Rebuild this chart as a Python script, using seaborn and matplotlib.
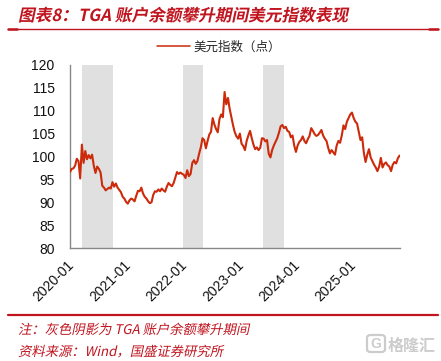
import matplotlib
matplotlib.use('Agg')
import matplotlib.pyplot as plt
import seaborn as sns
import pandas as pd
from matplotlib.lines import Line2D
from matplotlib.patches import FancyBboxPatch
from matplotlib.patheffects import AbstractPathEffect
from matplotlib.transforms import Affine2D, ScaledTranslation

# US dollar index, one value every 11 days from 2020-01-01
dxy = [
    96.6, 97.3, 97.4, 98.0, 99.5, 99.0, 95.2, 102.6, 98.6, 101.2, 99.4, 100.3, 99.6, 100.4, 98.0,
    96.4, 97.8, 97.3, 96.5, 93.6, 93.2, 92.6, 92.9, 93.2, 93.0, 94.4, 93.4, 94.1, 93.2, 92.7,
    92.2, 91.2, 90.8, 90.1, 89.7, 90.4, 90.8, 90.6, 90.2, 91.4, 92.5, 92.4, 93.2, 91.9, 91.2,
    90.8, 90.2, 89.8, 90.0, 91.6, 92.4, 92.3, 92.8, 92.4, 93.0, 92.6, 92.3, 93.4, 94.2, 93.8,
    93.5, 94.2, 95.4, 96.6, 96.2, 96.5, 96.2, 96.0, 95.3, 97.0, 95.7, 96.2, 98.6, 99.2, 98.4,
    99.0, 100.6, 102.0, 104.0, 103.6, 101.8, 103.4, 104.8, 105.4, 108.4, 107.0, 106.0, 105.3, 108.2, 109.2,
    108.6, 114.1, 111.4, 112.8, 110.4, 108.6, 106.8, 105.3, 104.4, 103.9, 105.0, 102.8, 102.3, 101.4, 103.4,
    104.6, 105.6, 104.0, 102.6, 101.6, 102.0, 101.4, 101.9, 104.0, 103.9, 103.3, 103.6, 100.6, 99.8, 101.4,
    102.4, 103.2, 104.0, 105.2, 106.6, 106.9, 106.2, 106.5, 105.6, 105.4, 104.2, 104.6, 102.4, 101.0, 102.4,
    103.2, 103.6, 104.4, 103.4, 102.9, 103.8, 104.5, 106.2, 105.6, 104.9, 104.5, 104.7, 105.2, 105.8, 104.6,
    103.9, 103.4, 101.9, 100.7, 101.4, 100.9, 100.4, 102.4, 103.4, 103.0, 104.6, 106.8, 106.0, 107.6, 108.4,
    109.2, 109.6, 108.4, 107.6, 107.2, 105.4, 103.6, 104.2, 100.8, 98.8, 100.4, 101.6, 99.8, 99.0, 98.2,
    97.6, 96.8, 97.8, 99.7, 97.6, 98.4, 98.7, 98.1, 97.8, 96.8, 98.2, 98.8, 98.5, 99.6, 100.2,
]
shade_start = ['2020-03-17', '2022-01-01', '2023-06-03']
shade_end = ['2020-10-03', '2022-05-10', '2023-10-18']
tick_dates = ['2020-01-01', '2021-01-01', '2022-01-01', '2023-01-01', '2024-01-01', '2025-01-01']
tick_labels = ['2020-01', '2021-01', '2022-01', '2023-01', '2024-01', '2025-01']
y_ticks = [80, 85, 90, 95, 100, 105, 110, 115, 120]

# full-width punctuation written as escapes
TITLE = '图表8\uff1aTGA 账户余额攀升期间美元指数表现'
NOTE = '注\uff1a灰色阴影为 TGA 账户余额攀升期间'
SOURCE = '资料来源\uff1aWind\uff0c国盛证券研究所'
LEGEND = '美元指数\uff08点\uff09'
RED = '#c0141f'
W, H = 441, 361


class Slant(AbstractPathEffect):
    # CJK fonts have no italic, so shear the glyph outlines
    def draw_path(self, renderer, gc, tpath, affine, rgbFace=None):
        renderer.draw_path(gc, tpath, Affine2D().skew_deg(12, 0) + affine, rgbFace)


sns.set_style('white')
plt.rcParams['font.family'] = ['Noto Sans CJK SC', 'DejaVu Sans']
plt.rcParams['axes.unicode_minus'] = False

df = pd.DataFrame({'date': pd.date_range('2020-01-01', periods=len(dxy), freq='11D'), 'dxy': dxy})

fig = plt.figure(figsize=(W / 100, H / 100), dpi=100)
ax = fig.add_axes([70 / W, 1 - 248 / H, 330 / W, 183 / H])

for a, b in zip(shade_start, shade_end):
    ax.axvspan(pd.Timestamp(a), pd.Timestamp(b), color='#e0e0e0', lw=0, zorder=0)

sns.lineplot(data=df, x='date', y='dxy', estimator=None, color='#cc2a0a', lw=1.5, ax=ax, label=LEGEND, zorder=3)

ax.set_xlim(pd.Timestamp('2020-01-01'), pd.Timestamp('2025-11-07'))
ax.set_ylim(80, 120)
ax.set_yticks(y_ticks)
ax.set_xticks(pd.to_datetime(tick_dates))
ax.set_xticklabels(tick_labels, rotation=45, ha='right', rotation_mode='anchor')
ax.tick_params(axis='y', labelsize=10, length=4, width=0.8, color='#555555', pad=7, labelcolor='#111111')
ax.tick_params(axis='x', labelsize=10, length=4, width=0.8, color='#333333', pad=3, labelcolor='#111111')
shift = ScaledTranslation(-3 / 100, 0, fig.dpi_scale_trans)
for lbl in ax.get_xticklabels():
    lbl.set_transform(lbl.get_transform() + shift)
for lbl in ax.get_xticklabels() + ax.get_yticklabels():
    lbl.set_fontfamily(['Liberation Sans', 'DejaVu Sans'])
ax.set_xlabel('')
ax.set_ylabel('')
sns.despine(ax=ax)
for s in ['left', 'bottom']:
    ax.spines[s].set_color('#888888')
    ax.spines[s].set_linewidth(1.0)

leg = ax.legend(loc='center', bbox_to_anchor=(219 / W, 1 - 47 / H), bbox_transform=fig.transFigure,
                frameon=False, fontsize=9, handlelength=2.6, handletextpad=0.3, borderpad=0)
leg.get_lines()[0].set_linewidth(1.1)

fig.text(18 / W, 1 - 21 / H, TITLE, color=RED, fontsize=12, fontweight='bold', path_effects=[Slant()])
fig.text(18 / W, 1 - 334 / H, NOTE, color=RED, fontsize=9.6, path_effects=[Slant()])
fig.text(18 / W, 1 - 356 / H, SOURCE, color=RED, fontsize=9.6, path_effects=[Slant()])

fig.add_artist(Line2D([8 / W, 438 / W], [1 - 28.5 / H] * 2, color=RED, lw=1.0))
fig.add_artist(Line2D([8 / W, 17 / W], [1 - 29 / H] * 2, color=RED, lw=1.8))
fig.add_artist(Line2D([429 / W, 438 / W], [1 - 29 / H] * 2, color=RED, lw=1.8))
fig.add_artist(Line2D([8 / W, 438 / W], [1 - 315 / H] * 2, color=RED, lw=1.6))

# watermark
fig.add_artist(FancyBboxPatch((367 / W, 1 - 352 / H), 18 / W, 17 / H, boxstyle='round,pad=0,rounding_size=0.008',
                              fc='none', ec='#cccccc', lw=1.6, transform=fig.transFigure))
fig.text(376 / W, 1 - 343.5 / H, 'G', color='#cccccc', fontsize=10, fontweight='bold', ha='center', va='center',
         family=['Liberation Sans', 'DejaVu Sans'])
fig.text(388 / W, 1 - 345.5 / H, '格隆汇', color='#cccccc', fontsize=11.5, fontweight='bold', va='center')

fig.savefig('out.png', dpi=100)
